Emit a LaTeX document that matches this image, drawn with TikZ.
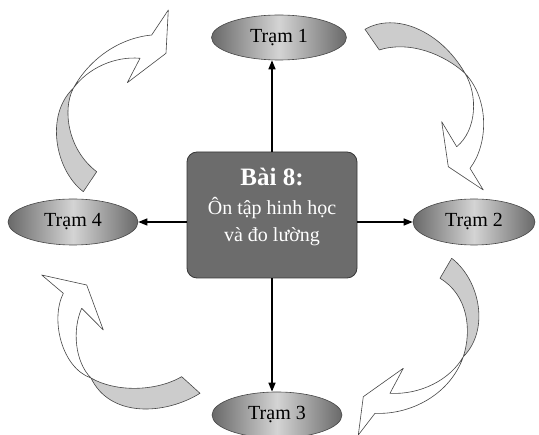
\documentclass[tikz,border=0pt]{standalone}
\usepackage{fontspec}
\setmainfont{Liberation Serif}
\usetikzlibrary{arrows.meta,shapes.geometric}
\definecolor{elldark}{RGB}{105,105,105}
\definecolor{elllight}{RGB}{212,212,212}
\definecolor{ellline}{RGB}{70,70,70}
\definecolor{boxfill}{RGB}{108,108,108}
\definecolor{boxline}{RGB}{55,55,55}
\definecolor{bandgray}{RGB}{204,204,204}
\definecolor{bandline}{RGB}{70,70,70}
\begin{document}
\begin{tikzpicture}[x=1pt,y=-1pt,
  station/.style={ellipse, draw=ellline, line width=0.6pt, left color=elldark, right color=elldark, middle color=elllight, inner sep=0pt, font=\fontsize{20}{24}\selectfont},
  link/.style={line width=1.3pt, -{Triangle[length=9pt,width=7pt]}},
  band/.style={draw=bandline, line width=0.6pt, line join=round, fill=bandgray},
  front/.style={draw=bandline, line width=0.6pt, line join=round, fill=white}]
\useasboundingbox (0,0) rectangle (539,435);

% top-left curved arrow (Tram 4 -> Tram 1)
\draw[band] (83.3,191.7) .. controls (55,170) and (45,115) .. (73.3,88.3)
  .. controls (62,110) and (68,150) .. (96.7,171.7) -- cycle;
\draw[front] (73.3,88.3) .. controls (90,58) and (120,38) .. (151.7,35)
  -- (168.3,10) -- (166,53.3) -- (127.3,82.7) -- (140,58.3)
  .. controls (115,56) and (88,68) .. (73.3,88.3) -- cycle;

% top-right curved arrow (Tram 1 -> Tram 2)
\draw[band] (365,29.3) .. controls (395,12) and (440,30) .. (465,73.3)
  .. controls (445,55) and (410,40) .. (379.3,50) -- cycle;
\draw[front] (465,73.3) .. controls (478,95) and (477,130) .. (456.7,146.7)
  -- (441.7,121.7) -- (448.3,166.7) -- (483.3,190) -- (470,168.3)
  .. controls (488,145) and (490,100) .. (465,73.3) -- cycle;

% bottom-right curved arrow (Tram 2 -> Tram 3)
\draw[band] (451.7,258.3) .. controls (480,280) and (490,330) .. (463.3,356.7)
  .. controls (472,330) and (468,295) .. (440,278.3) -- cycle;
\draw[front] (463.3,356.7) .. controls (450,380) and (420,395) .. (390,393.3)
  -- (403.3,368.3) -- (363.3,396.7) -- (358.3,435) -- (375,413.3)
  .. controls (410,415) and (450,395) .. (463.3,356.7) -- cycle;

% bottom-left curved arrow (Tram 3 -> Tram 4)
\draw[band] (91,378) .. controls (115,392) and (155,392) .. (181.7,376.7)
  -- (200,393.3) .. controls (165,415) and (110,418) .. (91,378) -- cycle;
\draw[front] (91,378) .. controls (62,368) and (50,320) .. (63.3,293.3)
  -- (41.7,275) -- (86.7,285) -- (103.3,330) -- (81.7,308.3)
  .. controls (72,330) and (75,362) .. (91,378) -- cycle;

% stations
\node[station, minimum width=135pt, minimum height=45pt] (t1) at (279,37.5) {Trạm 1};
\node[station, minimum width=122pt, minimum height=46pt] (t2) at (474,222) {Trạm 2};
\node[station, minimum width=130pt, minimum height=46pt] (t3) at (277,415) {Trạm 3};
\node[station, minimum width=130pt, minimum height=46pt] (t4) at (73,222) {Trạm 4};

% central box
\node[draw=boxline, fill=boxfill, line width=0.8pt, rounded corners=10pt, minimum width=170pt, minimum height=126pt] (box) at (272,215) {};
\node[text=white, anchor=base, font=\fontsize{25}{28}\selectfont\bfseries] (l1) at (272,186) {Bài 8:};
\node[text=white, anchor=base, font=\fontsize{20}{24}\selectfont] (l2) at (272,215) {Ôn tập hinh học};
\node[text=white, anchor=base, font=\fontsize{20}{24}\selectfont] (l3) at (272,242) {và đo lường};

% links
\draw[link] (box.north) -- (box.north |- t1.south);
\draw[link] (box.south) -- (box.south |- t3.north);
\draw[link] (box.east |- t2.west) -- (t2.west);
\draw[link] (box.west |- t4.east) -- (t4.east);
\end{tikzpicture}
\end{document}
